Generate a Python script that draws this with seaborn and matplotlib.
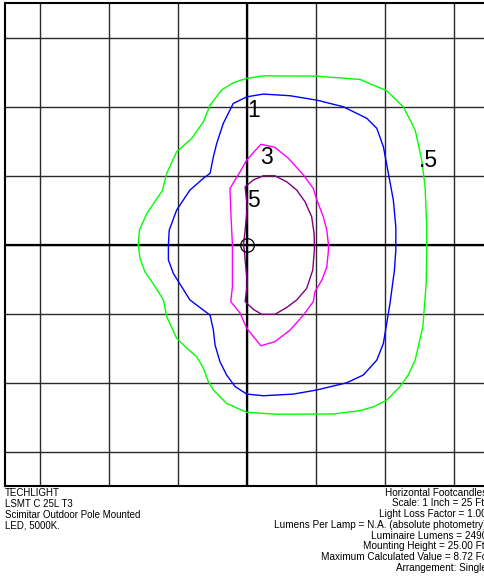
import matplotlib
matplotlib.use("Agg")
import matplotlib.pyplot as plt
import seaborn as sns
import pandas as pd

# Isofootcandle contours (feet from the pole, grid = 25 ft)
green_x = [-39.4, -39.0, -36.3, -30.7, -29.1, -25.5, -20.0, -15.8, -13.4, -9.2, -5.0, -0.1, 5.9, 25.3, 40.9, 50.6,
           56.6, 60.9, 63.3, 64.5, 65.1, 65.1, 65.1, 64.9, 63.7, 60.9, 58.4, 55.4, 50.6, 45.8, 40.9, 31.3, 10.8,
           -0.1, -7.4, -12.2, -14.0, -15.8, -18.2, -21.8, -25.5, -29.1, -30.3, -33.3, -37.0, -38.8, -39.4]
green_y = [0.0, 5.4, 11.5, 19.7, 26.0, 33.8, 38.7, 44.7, 50.7, 56.2, 58.8, 60.4, 61.3, 61.2, 60.0, 55.9,
           50.1, 41.7, 30.8, 21.1, 6.6, 0.0, -1.8, -13.9, -29.6, -41.7, -47.1, -51.3, -56.2, -58.6, -60.0, -61.2,
           -61.3, -60.6, -57.4, -52.5, -49.5, -44.7, -40.5, -37.4, -33.8, -26.0, -19.9, -15.1, -9.7, -4.8, 0.0]

blue_x = [-28.5, -28.2, -25.5, -20.7, -15.8, -13.4, -12.2, -11.0, -8.6, -5.0, -0.1, 5.9, 15.6, 25.3, 34.9, 43.4,
          47.0, 49.4, 51.2, 53.0, 53.9, 53.9, 53.9, 53.4, 51.8, 49.4, 47.0, 42.1, 36.1, 25.3, 16.8, 5.9, -0.1,
          -4.3, -7.4, -9.8, -11.6, -12.2, -13.4, -15.8, -20.7, -23.7, -26.7, -28.5, -28.5]
blue_y = [0.0, 5.4, 12.7, 19.9, 24.2, 26.0, 32.0, 36.8, 44.1, 51.3, 53.7, 54.7, 54.1, 52.5, 50.1, 45.9,
          42.3, 35.6, 26.0, 16.3, 6.6, 0.0, -1.8, -9.1, -21.1, -35.6, -41.7, -47.1, -49.9, -52.5, -54.0, -54.6,
          -54.0, -51.3, -47.1, -42.3, -36.2, -30.8, -25.4, -23.6, -19.9, -15.1, -10.3, -5.4, 0.0]

magenta_x = [-5.3, -5.8, -6.2, -3.2, -0.1, 5.0, 10.1, 15.0, 20.4, 24.0, 25.3, 27.6, 28.9, 29.5, 29.5, 28.9,
             27.1, 24.6, 24.0, 20.4, 15.6, 10.1, 5.0, -0.1, -2.5, -5.9, -5.3, -5.3, -5.3]
magenta_y = [0.0, 10.3, 20.5, 25.4, 30.8, 36.5, 35.4, 31.4, 25.4, 20.5, 16.3, 10.3, 5.4, 0.0, -1.8, -7.9,
             -12.7, -16.9, -20.5, -25.4, -30.8, -35.0, -36.5, -30.2, -24.7, -20.5, -15.1, -1.8, 0.0]

purple_x = [-1.3, -0.7, 0.1, -0.7, 2.3, 5.9, 10.1, 14.4, 18.0, 21.0, 23.4, 24.3, 24.4, 24.4, 23.8, 21.6,
            18.0, 14.4, 10.1, 5.3, 2.3, -0.7, 0.1, -0.7, -1.0, -1.3]
purple_y = [0.0, 5.4, 13.9, 21.1, 23.6, 25.1, 25.1, 22.9, 19.9, 15.7, 10.3, 4.2, 0.0, -1.8, -9.1, -15.7,
            -19.9, -22.6, -25.1, -25.1, -23.3, -20.5, -13.9, -5.4, -1.8, 0.0]

contour_levels = [".5", "1", "3", "5"]
contour_colors = ["#00ff00", "#0000ff", "#ff00ff", "#800080"]

label_text = ["1", "3", "5", ".5"]
label_x = [2.3, 7.1, 2.3, 65.7]
label_y = [48.9, 31.8, 16.3, 30.8]

left_notes = ["TECHLIGHT", "LSMT C 25L T3", "Scimitar Outdoor Pole Mounted", "LED, 5000K."]
right_notes = ["Horizontal Footcandles", "Scale: 1 Inch = 25 Ft.", "Light Loss Factor = 1.00",
               "Lumens Per Lamp = N.A. (absolute photometry)", "Luminaire Lumens = 2490",
               "Mounting Height = 25.00 Ft.", "Maximum Calculated Value = 8.72 Fc", "Arrangement: Single"]

grid_ticks = [-75, -50, -25, 0, 25, 50, 75]

frames = []
for lvl, xs, ys in zip(contour_levels, [green_x, blue_x, magenta_x, purple_x],
                       [green_y, blue_y, magenta_y, purple_y]):
    frames.append(pd.DataFrame({"x": xs, "y": ys, "level": lvl, "order": range(len(xs))}))
df = pd.concat(frames, ignore_index=True)

plt.rcParams["font.family"] = ["Liberation Sans", "DejaVu Sans"]
fig = plt.figure(figsize=(4.84, 5.77), dpi=100)
ax = fig.add_axes([5 / 484, (577 - 486) / 577, 483 / 484, 483 / 577])

ax.set_xlim(-87.7, 87.3)
ax.set_ylim(-87.3, 87.7)
ax.set_xticks(grid_ticks)
ax.set_yticks(grid_ticks)
ax.tick_params(length=0, labelbottom=False, labelleft=False)
ax.grid(True, color="#2a2a2a", linewidth=1.0)
ax.set_axisbelow(True)
ax.axvline(0, color="black", linewidth=1.6, zorder=1)
ax.axhline(0, color="black", linewidth=1.6, zorder=1)
for s in ax.spines.values():
    s.set_color("black")
    s.set_linewidth(1.5)

for lvl, col in zip(contour_levels, contour_colors):
    sub = df[df["level"] == lvl]
    sns.lineplot(data=sub, x="x", y="y", sort=False, estimator=None, color=col,
                 linewidth=1.0, ax=ax, legend=False, zorder=3)
ax.set_xlabel("")
ax.set_ylabel("")

ax.plot([0], [0], marker="o", markersize=9.8, markerfacecolor="none",
        markeredgecolor="black", markeredgewidth=0.9, zorder=4)

for t, x, y in zip(label_text, label_x, label_y):
    ax.text(x, y, t, ha="center", va="center", fontsize=16.5, color="black", zorder=5)

for i, t in enumerate(left_notes):
    fig.text(5 / 484, 1 - (492.7 + 10.9 * i) / 577, t, ha="left", va="center", fontsize=7, color="black")
for i, t in enumerate(right_notes):
    fig.text(487 / 484, 1 - (492.7 + 10.75 * i) / 577, t, ha="right", va="center", fontsize=7.2, color="black")

fig.savefig("out.png", dpi=100)
